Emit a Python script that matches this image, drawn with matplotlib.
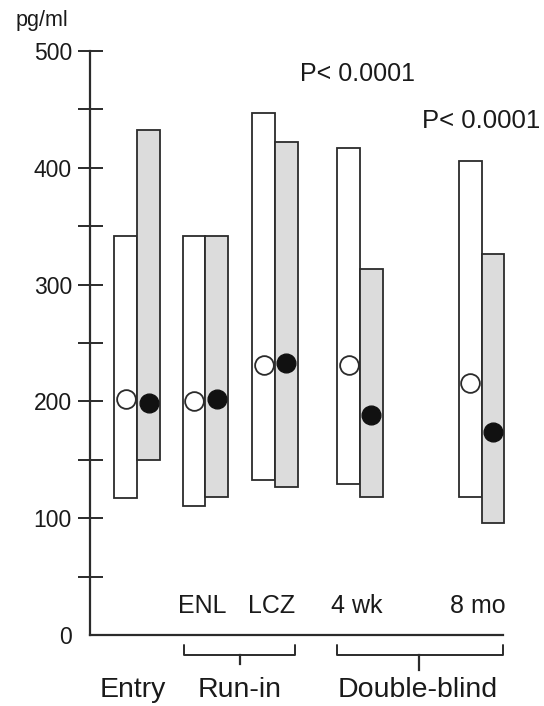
import numpy as np
import matplotlib
matplotlib.use("Agg")
import matplotlib.pyplot as plt

plt.rcParams['font.family'] = ['Liberation Sans', 'DejaVu Sans']
plt.rcParams['text.color'] = '#1a1a1a'
plt.rcParams['ytick.labelcolor'] = '#1a1a1a'

# ---- data (pg/ml) ----
groups = ["Entry", "ENL", "LCZ", "4 wk", "8 mo"]
group_pos = [2.08, 5.08, 8.15, 11.9, 17.26]

open_low = [117, 110, 133, 129, 118]
open_high = [342, 342, 447, 417, 406]
open_median = [202, 200, 231, 231, 216]

gray_low = [150, 118, 127, 118, 96]
gray_high = [432, 342, 422, 313, 326]
gray_median = [199, 202, 233, 188, 174]

p_labels = ["P< 0.0001", "P< 0.0001"]

# ---- figure ----
fig = plt.figure(figsize=(5.44, 7.06), dpi=100)
ax = fig.add_axes([0.1654, 0.1006, 0.7592, 0.8272])

edge = "#2b2b2b"
w = 1.0
x = np.array(group_pos)

ax.bar(x - w / 2, np.array(open_high) - np.array(open_low), bottom=open_low,
       width=w, color="white", edgecolor=edge, linewidth=1.3, zorder=2,
       clip_on=False)
ax.bar(x + w / 2, np.array(gray_high) - np.array(gray_low), bottom=gray_low,
       width=w, color="#dcdcdc", edgecolor=edge, linewidth=1.3, zorder=2,
       clip_on=False)

ax.plot(x - w / 2, open_median, "o", ms=13.5, mfc="white", mec=edge, mew=1.3,
        ls="none", zorder=3, clip_on=False)
ax.plot(x + w / 2, gray_median, "o", ms=13.5, mfc="#111111", mec="#111111",
        ls="none", zorder=3, clip_on=False)

ax.set_xlim(0, 18.2)
ax.set_ylim(0, 500)

for s in ["top", "right"]:
    ax.spines[s].set_visible(False)
for s in ["left", "bottom"]:
    ax.spines[s].set_linewidth(1.6)
    ax.spines[s].set_color(edge)

ax.set_xticks([])
ax.set_yticks(np.arange(0, 501, 100))
ax.set_yticks(np.arange(50, 500, 100), minor=True)
ax.tick_params(axis="y", which="both", direction="inout", length=18,
               width=1.4, color=edge, labelsize=16.5, pad=4)
ax.yaxis.get_major_ticks()[0].tick1line.set_visible(False)

# unit label
ax.text(-2.1, 526, "pg/ml", fontsize=15.5, ha="center", va="center",
        clip_on=False)

# sub labels above x axis
for gx, g in zip(group_pos[1:], groups[1:]):
    ax.text(gx - 0.15, 25, g, fontsize=18, ha="center", va="center")

# p-values
ax.text(11.8, 480, p_labels[0], fontsize=18, ha="center", va="center")
ax.text(17.22, 440, p_labels[1], fontsize=18.5, ha="center", va="center",
        clip_on=False)

# brackets below the axis
def bracket(x0, x1, xc, tip):
    ax.plot([x0, x0, x1, x1], [-9, -17, -17, -9], color=edge, lw=1.4,
            clip_on=False, solid_joinstyle="round", solid_capstyle="round")
    ax.plot([xc, xc], [-17, tip], color=edge, lw=1.6, clip_on=False)

bracket(4.14, 9.03, 6.6, -25)
bracket(10.88, 18.19, 14.5, -30)

ax.text(1.9, -47, "Entry", fontsize=20.5, ha="center", va="center", clip_on=False)
ax.text(6.6, -47, "Run-in", fontsize=20.5, ha="center", va="center", clip_on=False)
ax.text(14.45, -47, "Double-blind", fontsize=20.5, ha="center", va="center",
        clip_on=False)

fig.savefig("out.png", dpi=100)
